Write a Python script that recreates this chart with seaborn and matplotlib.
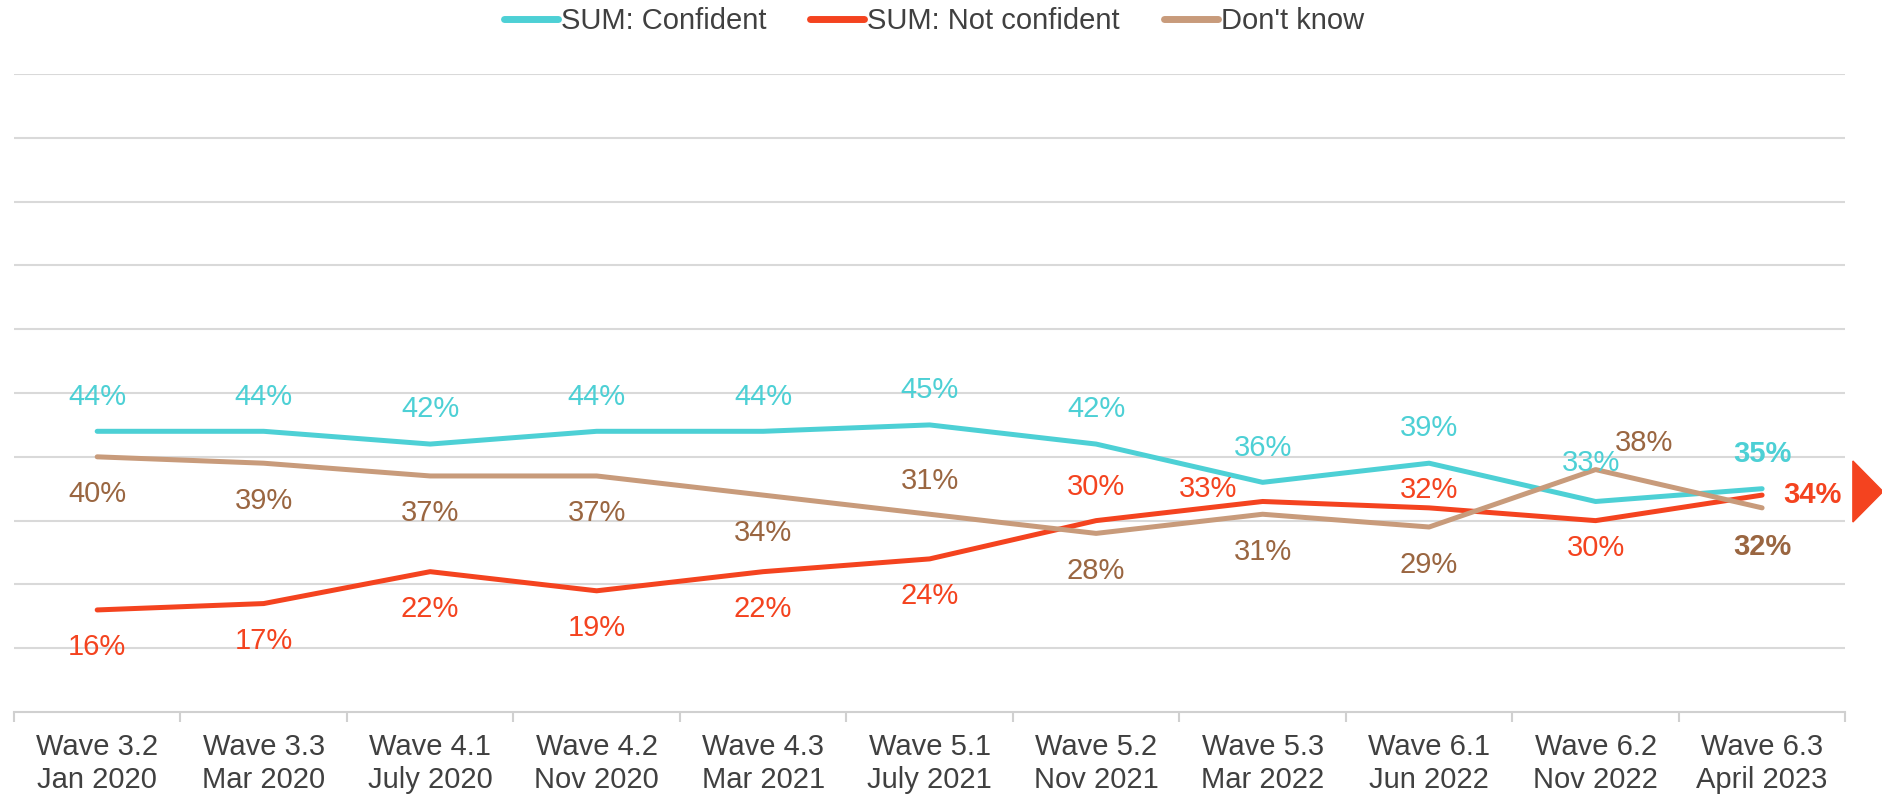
import numpy as np
import pandas as pd
import matplotlib
matplotlib.use('Agg')
import matplotlib.pyplot as plt
import seaborn as sns
from matplotlib.patches import Polygon
from matplotlib.lines import Line2D

sns.set_theme(style='white')
plt.rcParams['font.family'] = ['Liberation Sans', 'DejaVu Sans']

# 数据
waves = ['Wave 3.2\nJan 2020', 'Wave 3.3\nMar 2020', 'Wave 4.1\nJuly 2020', 'Wave 4.2\nNov 2020',
         'Wave 4.3\nMar 2021', 'Wave 5.1\nJuly 2021', 'Wave 5.2\nNov 2021', 'Wave 5.3\nMar 2022',
         'Wave 6.1\nJun 2022', 'Wave 6.2\nNov 2022', 'Wave 6.3\nApril 2023']
series_names = ['SUM: Confident', 'SUM: Not confident', "Don't know"]
confident = [44, 44, 42, 44, 44, 45, 42, 36, 39, 33, 35]
not_confident = [16, 17, 22, 19, 22, 24, 30, 33, 32, 30, 34]
dont_know = [40, 39, 37, 37, 34, 31, 28, 31, 29, 38, 32]

LINE_COLORS = ['#4DD0D5', '#F4431F', '#C89B7B']
LABEL_COLORS = ['#4DD0D5', '#F4431F', '#9A6641']

# 标签偏移 (points)
offsets = [
    [(0, 25)] * 9 + [(-3, 28), (0, 25)],
    [(0, -27)] * 6 + [(0, 24), (-39, 9), (0, 13), (0, -20), (36, 0)],
    [(0, -27)] * 5 + [(0, 24), (0, -27), (0, -27), (0, -27), (35, 19), (0, -28)],
]

df = pd.DataFrame({
    'x': list(range(len(waves))) * 3,
    'value': confident + not_confident + dont_know,
    'series': [s for s in series_names for _ in waves],
})

fig = plt.figure(figsize=(18.83, 7.96), dpi=100)
ax = fig.add_axes([0.0074, 0.1055, 0.9726, 0.8015])

sns.lineplot(data=df, x='x', y='value', hue='series', hue_order=series_names,
             palette=LINE_COLORS, linewidth=3.6, legend=False, ax=ax,
             solid_capstyle='round')

for i, vals in enumerate([confident, not_confident, dont_know]):
    for j, v in enumerate(vals):
        last = j == len(vals) - 1
        ax.annotate(f'{v}%', (j, v), xytext=offsets[i][j], textcoords='offset points',
                    ha='center', va='center', fontsize=21, color=LABEL_COLORS[i],
                    fontweight='bold' if last else 'normal')

ax.set_xlim(-0.5, len(waves) - 0.5)
ax.set_ylim(0, 100)
ax.set_yticks(np.arange(10, 101, 10))
ax.set_yticklabels([])
ax.tick_params(axis='y', length=0)
ax.grid(axis='y', color='#D9D9D9', linewidth=1.5)
ax.set_xticks(range(len(waves)))
ax.set_xticklabels(waves, fontsize=21, color='#404040', linespacing=1.25)
ax.set_xticks(np.arange(-0.5, len(waves), 1), minor=True)
ax.tick_params(axis='x', which='major', length=0, pad=15)
ax.tick_params(axis='x', which='minor', length=7, width=1.5, color='#D0D0D0', direction='out', bottom=True)
ax.set_xlabel('')
ax.set_ylabel('')
for side in ['top', 'left', 'right']:
    ax.spines[side].set_visible(False)
ax.spines['bottom'].set_color('#D0D0D0')
ax.spines['bottom'].set_linewidth(1.5)

handles = [Line2D([0], [0], color=c, linewidth=5, solid_capstyle='round') for c in LINE_COLORS]
fig.legend(handles, series_names, loc='center', bbox_to_anchor=(0.496, 0.973), ncol=3,
           frameon=False, fontsize=21, handlelength=1.85, handletextpad=0.1, columnspacing=1.5,
           labelcolor='#404040')

tri = Polygon([[0.984, 0.4209], [1.0, 0.3825], [0.984, 0.3442]], closed=True,
              transform=fig.transFigure, color='#F4431F', clip_on=False)
fig.patches.append(tri)

plt.savefig('out.png', dpi=100)
plt.close()
